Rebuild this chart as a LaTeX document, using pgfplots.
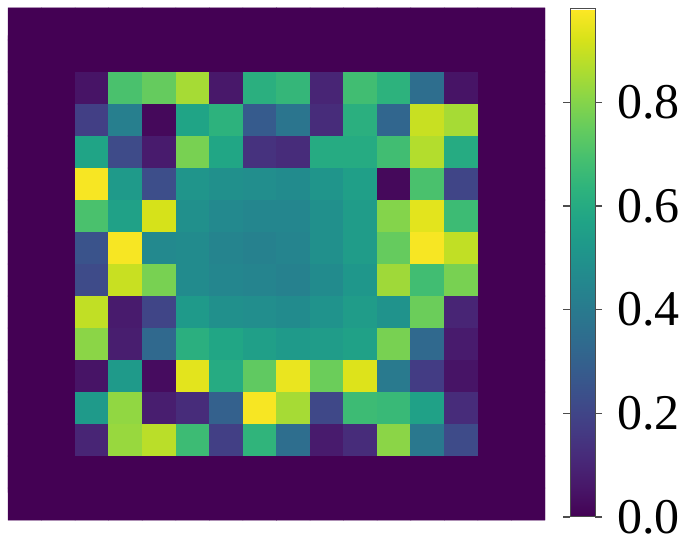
\documentclass[border=0pt]{standalone}
\usepackage{fontspec}
\setmainfont{Liberation Serif}
\usepackage{pgfplots}
\pgfplotsset{compat=1.18}
\definecolor{vir0}{HTML}{440154}

\begin{document}
\begin{tikzpicture}
\useasboundingbox (-4pt,-15pt) rectangle (346pt,260pt);
\begin{axis}[
    scale only axis,
    width=268.5pt, height=256pt,
    xmin=-0.5, xmax=15.5, ymin=-0.5, ymax=15.5,
    y dir=reverse,
    enlargelimits=false,
    axis lines=none, xtick=\empty, ytick=\empty,
    axis background/.style={fill=vir0},
    colormap/viridis,
    point meta min=0, point meta max=0.98,
    /pgf/number format/assume math mode=true,
    colorbar,
    colorbar style={
        at={(parent axis.north east)}, anchor=north west,
        xshift=4pt, yshift=-0.5pt,
        width=12.5pt, height=254pt,
        axis lines=box,
        ytick={0,0.2,0.4,0.6,0.8},
        /pgf/number format/assume math mode=true,
        /pgf/number format/fixed,
        /pgf/number format/fixed zerofill,
        /pgf/number format/precision=1,
        yticklabel style={
            font=\fontsize{25}{30}\selectfont,
            xshift=4pt,
        },
        tick align=outside,
        major tick length=3.5pt,
        every tick/.style={gray!60!black, line width=0.6pt},
        axis line style={gray!60!black, line width=0.5pt},
    },
]
\addplot[matrix plot, shader=faceted, faceted color=mapped color, line width=0.3pt, mesh/cols=16, point meta=explicit] coordinates {
(0,0)[0] (1,0)[0] (2,0)[0] (3,0)[0] (4,0)[0] (5,0)[0] (6,0)[0] (7,0)[0] (8,0)[0] (9,0)[0] (10,0)[0] (11,0)[0] (12,0)[0] (13,0)[0] (14,0)[0] (15,0)[0]
(0,1)[0] (1,1)[0] (2,1)[0] (3,1)[0] (4,1)[0] (5,1)[0] (6,1)[0] (7,1)[0] (8,1)[0] (9,1)[0] (10,1)[0] (11,1)[0] (12,1)[0] (13,1)[0] (14,1)[0] (15,1)[0]
(0,2)[0] (1,2)[0] (2,2)[0.05] (3,2)[0.70] (4,2)[0.75] (5,2)[0.85] (6,2)[0.06] (7,2)[0.62] (8,2)[0.65] (9,2)[0.10] (10,2)[0.68] (11,2)[0.63] (12,2)[0.35] (13,2)[0.05] (14,2)[0] (15,2)[0]
(0,3)[0] (1,3)[0] (2,3)[0.18] (3,3)[0.42] (4,3)[0.02] (5,3)[0.57] (6,3)[0.63] (7,3)[0.28] (8,3)[0.38] (9,3)[0.12] (10,3)[0.62] (11,3)[0.32] (12,3)[0.90] (13,3)[0.85] (14,3)[0] (15,3)[0]
(0,4)[0] (1,4)[0] (2,4)[0.57] (3,4)[0.22] (4,4)[0.07] (5,4)[0.78] (6,4)[0.58] (7,4)[0.14] (8,4)[0.12] (9,4)[0.60] (10,4)[0.60] (11,4)[0.68] (12,4)[0.87] (13,4)[0.60] (14,4)[0] (15,4)[0]
(0,5)[0] (1,5)[0] (2,5)[0.97] (3,5)[0.53] (4,5)[0.23] (5,5)[0.51] (6,5)[0.49] (7,5)[0.48] (8,5)[0.47] (9,5)[0.51] (10,5)[0.55] (11,5)[0.02] (12,5)[0.70] (13,5)[0.20] (14,5)[0] (15,5)[0]
(0,6)[0] (1,6)[0] (2,6)[0.70] (3,6)[0.56] (4,6)[0.92] (5,6)[0.49] (6,6)[0.46] (7,6)[0.45] (8,6)[0.45] (9,6)[0.49] (10,6)[0.54] (11,6)[0.80] (12,6)[0.94] (13,6)[0.67] (14,6)[0] (15,6)[0]
(0,7)[0] (1,7)[0] (2,7)[0.25] (3,7)[0.97] (4,7)[0.46] (5,7)[0.47] (6,7)[0.44] (7,7)[0.43] (8,7)[0.44] (9,7)[0.49] (10,7)[0.54] (11,7)[0.75] (12,7)[0.97] (13,7)[0.89] (14,7)[0] (15,7)[0]
(0,8)[0] (1,8)[0] (2,8)[0.22] (3,8)[0.90] (4,8)[0.78] (5,8)[0.47] (6,8)[0.45] (7,8)[0.44] (8,8)[0.43] (9,8)[0.47] (10,8)[0.52] (11,8)[0.84] (12,8)[0.68] (13,8)[0.78] (14,8)[0] (15,8)[0]
(0,9)[0] (1,9)[0] (2,9)[0.89] (3,9)[0.07] (4,9)[0.20] (5,9)[0.53] (6,9)[0.49] (7,9)[0.48] (8,9)[0.47] (9,9)[0.50] (10,9)[0.54] (11,9)[0.50] (12,9)[0.76] (13,9)[0.10] (14,9)[0] (15,9)[0]
(0,10)[0] (1,10)[0] (2,10)[0.81] (3,10)[0.08] (4,10)[0.33] (5,10)[0.62] (6,10)[0.58] (7,10)[0.55] (8,10)[0.53] (9,10)[0.54] (10,10)[0.56] (11,10)[0.78] (12,10)[0.33] (13,10)[0.07] (14,10)[0] (15,10)[0]
(0,11)[0] (1,11)[0] (2,11)[0.05] (3,11)[0.53] (4,11)[0.03] (5,11)[0.94] (6,11)[0.60] (7,11)[0.74] (8,11)[0.95] (9,11)[0.76] (10,11)[0.93] (11,11)[0.40] (12,11)[0.17] (13,11)[0.05] (14,11)[0] (15,11)[0]
(0,12)[0] (1,12)[0] (2,12)[0.53] (3,12)[0.82] (4,12)[0.08] (5,12)[0.12] (6,12)[0.30] (7,12)[0.97] (8,12)[0.85] (9,12)[0.21] (10,12)[0.67] (11,12)[0.66] (12,12)[0.56] (13,12)[0.12] (14,12)[0] (15,12)[0]
(0,13)[0] (1,13)[0] (2,13)[0.10] (3,13)[0.83] (4,13)[0.88] (5,13)[0.67] (6,13)[0.18] (7,13)[0.64] (8,13)[0.35] (9,13)[0.07] (10,13)[0.12] (11,13)[0.81] (12,13)[0.39] (13,13)[0.22] (14,13)[0] (15,13)[0]
(0,14)[0] (1,14)[0] (2,14)[0] (3,14)[0] (4,14)[0] (5,14)[0] (6,14)[0] (7,14)[0] (8,14)[0] (9,14)[0] (10,14)[0] (11,14)[0] (12,14)[0] (13,14)[0] (14,14)[0] (15,14)[0]
(0,15)[0] (1,15)[0] (2,15)[0] (3,15)[0] (4,15)[0] (5,15)[0] (6,15)[0] (7,15)[0] (8,15)[0] (9,15)[0] (10,15)[0] (11,15)[0] (12,15)[0] (13,15)[0] (14,15)[0] (15,15)[0]
};
\end{axis}
\end{tikzpicture}
\end{document}
